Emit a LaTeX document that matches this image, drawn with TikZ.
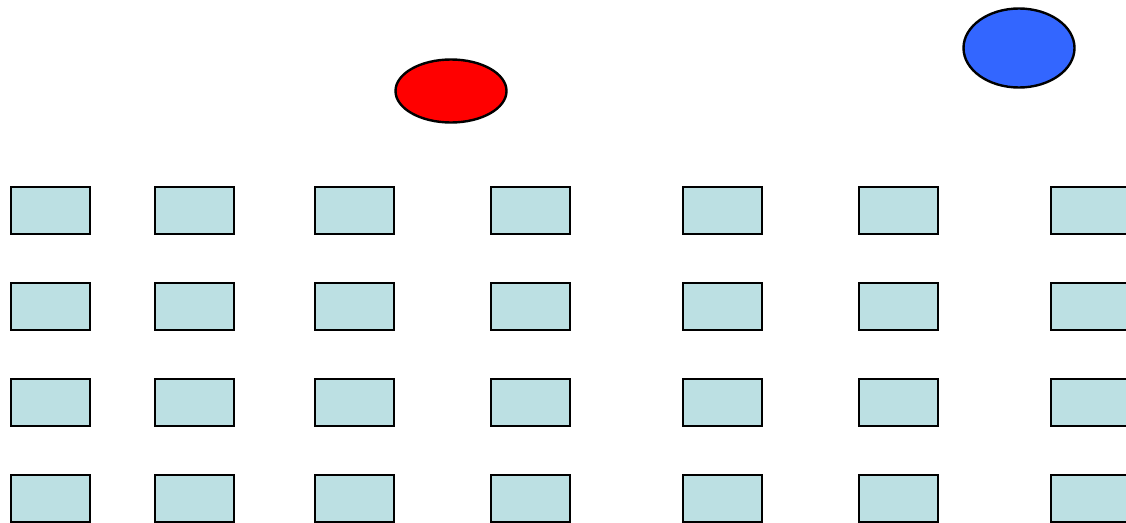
\documentclass[tikz,border=0pt]{standalone}
\usetikzlibrary{shapes.geometric}
\definecolor{seatfill}{HTML}{BCE0E3}
\definecolor{spotblue}{HTML}{3366FF}
\begin{document}
\begin{tikzpicture}[x=1pt,y=-1pt,
  seat/.style={draw,line width=2.4pt,fill=seatfill,rectangle,inner sep=0pt,minimum width=79pt,minimum height=47pt},
  spot/.style={draw,line width=2.4pt,ellipse,inner sep=0pt}]
  \useasboundingbox (0,0) rectangle (1126,522);
  \clip (0,0) rectangle (1126,522);
  \node[spot,fill=red,minimum width=111pt,minimum height=63pt] (red) at (451,91) {};
  \node[spot,fill=spotblue,minimum width=111pt,minimum height=79pt] (blue) at (1019,48) {};
  \foreach \x [count=\c] in {50.5,194.5,354.5,530.5,722.5,898.5,1090.5}
    \foreach \y [count=\r] in {210.5,306.5,402.5,498.5}
      \node[seat] (s\r\c) at (\x,\y) {};
\end{tikzpicture}
\end{document}
